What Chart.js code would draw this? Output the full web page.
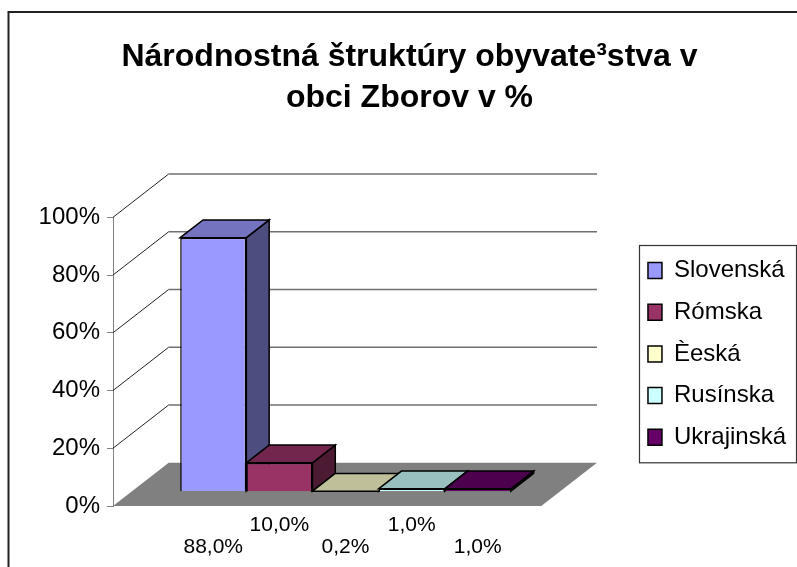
<!DOCTYPE html>
<html>
<head>
<meta charset="utf-8">
<script src="https://cdn.jsdelivr.net/npm/chart.js@4.4.0/dist/chart.umd.min.js"></script>
<style>
  html, body { margin: 0; padding: 0; background: #fff; }
</style>
</head>
<body>
<canvas id="chart" width="797" height="567"></canvas>
<script>
// data
const categories = ['Slovenská', 'Rómska', 'Èeská', 'Rusínska', 'Ukrajinská'];
const values = [88.0, 10.0, 0.2, 1.0, 1.0];
const valueLabels = ['88,0%', '10,0%', '0,2%', '1,0%', '1,0%'];
const colors = ['#9999FF', '#993366', '#FFFFCC', '#CCFFFF', '#660066'];
const yTicks = [0, 20, 40, 60, 80, 100];

const FONT = '"Liberation Sans", Arial, sans-serif';
Chart.defaults.font.family = FONT;
Chart.defaults.color = '#000';

// 3d depth of the floor / walls and where the bars sit in it
const D = { x: 55.7, y: -43.3 };
const F1 = 0.33, F2 = 0.74;

function shade(hex, k) {
  const n = parseInt(hex.slice(1), 16);
  const r = Math.round(((n >> 16) & 255) * k);
  const g = Math.round(((n >> 8) & 255) * k);
  const b = Math.round((n & 255) * k);
  return 'rgb(' + r + ',' + g + ',' + b + ')';
}

function poly(ctx, pts, fill) {
  ctx.beginPath();
  ctx.moveTo(pts[0][0], pts[0][1]);
  for (let i = 1; i < pts.length; i++) ctx.lineTo(pts[i][0], pts[i][1]);
  ctx.closePath();
  ctx.fillStyle = fill;
  ctx.fill();
  ctx.lineWidth = 1.5;
  ctx.strokeStyle = '#000';
  ctx.stroke();
}

const depth = {
  id: 'depth',
  beforeDatasetsDraw(chart) {
    const { ctx, chartArea: a } = chart;
    const y = chart.scales.y;
    ctx.save();
    // floor
    ctx.beginPath();
    ctx.moveTo(a.left, a.bottom);
    ctx.lineTo(a.right, a.bottom);
    ctx.lineTo(a.right + D.x, a.bottom + D.y);
    ctx.lineTo(a.left + D.x, a.bottom + D.y);
    ctx.closePath();
    ctx.fillStyle = '#808080';
    ctx.fill();
    // side wall + back wall gridlines
    yTicks.forEach(t => {
      if (t === 0) return;
      const py = y.getPixelForValue(t);
      ctx.beginPath();
      ctx.moveTo(a.left, py);
      ctx.lineTo(a.left + D.x, py + D.y);
      ctx.strokeStyle = '#222';
      ctx.lineWidth = 1;
      ctx.stroke();
      ctx.beginPath();
      ctx.moveTo(a.left + D.x, py + D.y);
      ctx.lineTo(a.right + D.x, py + D.y);
      ctx.strokeStyle = '#707070';
      ctx.lineWidth = 1.5;
      ctx.stroke();
    });
    // tops and sides of the columns
    const ox = D.x * F1, oy = D.y * F1;
    const bx = D.x * (F2 - F1), by = D.y * (F2 - F1);
    chart.data.datasets.forEach((ds, i) => {
      const bar = chart.getDatasetMeta(i).data[0];
      const p = bar.getProps(['x', 'y', 'base', 'width'], true);
      const l = p.x - p.width / 2 + ox, r = p.x + p.width / 2 + ox;
      const t = p.y + oy, b = p.base + oy;
      poly(ctx, [[r, t], [r + bx, t + by], [r + bx, b + by], [r, b]], shade(ds.backgroundColor, 0.5));
      poly(ctx, [[l, t], [l + bx, t + by], [r + bx, t + by], [r, t]], shade(ds.backgroundColor, 0.75));
    });
    ctx.restore();
    ctx.save();
    ctx.translate(ox, oy);
  },
  afterDatasetsDraw(chart) {
    const { ctx, chartArea: a } = chart;
    ctx.restore();
    ctx.save();
    ctx.font = '21px ' + FONT;
    ctx.fillStyle = '#000';
    ctx.textAlign = 'center';
    ctx.textBaseline = 'middle';
    chart.data.datasets.forEach((ds, i) => {
      const bar = chart.getDatasetMeta(i).data[0];
      const px = bar.getProps(['x'], true).x + D.x * F1;
      ctx.fillText(valueLabels[i], px, a.bottom + (i % 2 === 0 ? 41 : 19));
    });
    ctx.restore();
  },
  afterDraw(chart) {
    const { ctx } = chart;
    const lg = chart.legend;
    const hb = lg.legendHitBoxes;
    ctx.save();
    ctx.strokeStyle = '#333';
    ctx.lineWidth = 1.2;
    const left = lg.left + lg.options.labels.padding - 9.3;
    const top = hb[0].top - 13.5;
    const bottom = hb[hb.length - 1].top + hb[hb.length - 1].height + 13;
    ctx.strokeRect(Math.round(left) + 0.5, Math.round(top) + 0.5, 796.5 - Math.round(left) - 0.5, bottom - top);
    // outer frame
    ctx.strokeStyle = '#222';
    ctx.lineWidth = 2;
    ctx.strokeRect(8.5, 12, 800, 600);
    ctx.restore();
  }
};

new Chart(document.getElementById('chart'), {
  type: 'bar',
  data: {
    labels: [''],
    datasets: categories.map((c, i) => ({
      label: c,
      data: [values[i]],
      backgroundColor: colors[i],
      borderColor: '#000',
      borderWidth: 1.5,
      categoryPercentage: 0.772,
      barPercentage: 1,
      yAxisID: 'y'
    }))
  },
  options: {
    responsive: false,
    animation: false,
    devicePixelRatio: 1,
    layout: { padding: { left: 23, right: 1, top: 10, bottom: 61 } },
    plugins: {
      title: {
        display: true,
        text: ['Národnostná štruktúry obyvate³stva v', 'obci Zborov v %'],
        font: { size: 32, weight: 'bold', lineHeight: '41px' },
        color: '#000',
        padding: { top: 26.5, bottom: 98.8 }
      },
      legend: {
        position: 'right',
        fullSize: false,
        align: 'start',
        maxWidth: 300,
        title: { display: true, text: '', font: { size: 10, lineHeight: '23.5px' }, padding: 0 },
        labels: { boxWidth: 14, boxHeight: 16, padding: 17.7, font: { size: 24 }, color: '#000' }
      },
      tooltip: { enabled: false }
    },
    scales: {
      x: { display: false },
      y: {
        min: 0,
        max: 100,
        ticks: { stepSize: 20, callback: v => v + '%', font: { size: 24 }, color: '#000', padding: 7 },
        grid: { drawOnChartArea: false, tickLength: 6, color: '#808080' },
        border: { color: '#808080' },
        afterFit: s => { s.width = 90; }
      },
      gap: {
        type: 'linear',
        position: 'right',
        ticks: { display: false },
        grid: { display: false, drawTicks: false },
        border: { display: false },
        afterFit: s => { s.width = 89; }
      }
    }
  },
  plugins: [depth]
});
</script>
</body>
</html>
